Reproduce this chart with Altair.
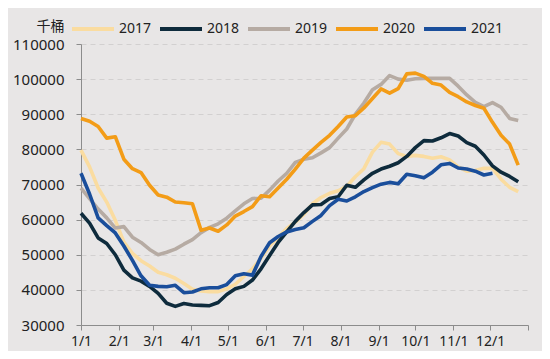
import altair as alt
import pandas as pd

# weekly observations (week index -> day of year = 7 * index)
s2017 = [79800, 75000, 69000, 65000, 59800, 53600, 50400, 48300, 46800, 45000,
         44300, 43300, 41800, 40200, 39700, 39500, 39500, 40300, 41600, 43800,
         46000, 49000, 52500, 55000, 57500, 59300, 61500, 64500, 66300, 67500,
         68200, 69500, 72200, 74500, 79200, 82000, 81500, 78800, 78000, 78300,
         78000, 77500, 77900, 77000, 75000, 73800, 74000, 74600, 74600, 71500,
         69200, 68000]
s2018 = [61800, 59000, 54800, 53200, 50000, 45600, 43400, 42500, 41000, 39000,
         36200, 35300, 36100, 35700, 35600, 35500, 36400, 38700, 40300, 41000,
         42800, 46000, 49800, 53500, 56500, 59500, 62000, 64200, 64300, 66000,
         66500, 69800, 69200, 71300, 73200, 74400, 75200, 76200, 78000, 80500,
         82500, 82400, 83300, 84500, 83800, 81900, 80900, 78400, 75300, 73500,
         72300, 70800]
s2019 = [69000, 66000, 63000, 60500, 57600, 58000, 55000, 53500, 51500, 50000,
         50700, 51600, 53000, 54300, 56300, 57800, 58800, 60400, 62500, 64500,
         66000, 66100, 68400, 71000, 73200, 76300, 77200, 77600, 79000, 80500,
         83200, 85800, 90000, 93200, 97000, 98500, 101000, 100000, 99700, 100100,
         100200, 100200, 100200, 100200, 98000, 95500, 93400, 92200, 93300, 92000,
         88800, 88200]
s2020 = [88800, 88000, 86500, 83200, 83600, 77200, 74500, 73400, 69800, 67000,
         66400, 65000, 64800, 64500, 57000, 57600, 56700, 58500, 61000, 62300,
         63700, 66800, 66500, 69000, 71500, 74400, 77500, 79800, 82000, 84000,
         86500, 89200, 89600, 91800, 94500, 97200, 96000, 97300, 101500, 101700,
         100800, 98800, 98300, 96200, 95000, 93500, 92500, 91700, 87700, 84000,
         81500, 75500]
s2021 = [73200, 67300, 60500, 58300, 56200, 52500, 48400, 44000, 41300, 41000,
         40900, 41300, 39200, 39400, 40300, 40600, 40600, 41500, 44000, 44600,
         44200, 49500, 53400, 55200, 56500, 57200, 57700, 59500, 61200, 64000,
         65800, 65300, 66500, 68000, 69100, 70100, 70600, 70200, 72900, 72500,
         71900, 73500, 75600, 76000, 74700, 74400, 73800, 72700, 73200]

years = ["2017", "2018", "2019", "2020", "2021"]
colors = ["#FADCA0", "#0E2B3C", "#B6ABA3", "#F39C17", "#1A4E9B"]
month_days = [0, 31, 59, 90, 120, 151, 181, 212, 243, 273, 304, 334, 365]
month_labels = ["1/1", "2/1", "3/1", "4/1", "5/1", "6/1", "7/1", "8/1",
                "9/1", "10/1", "11/1", "12/1", ""]
y_ticks = [30000, 40000, 50000, 60000, 70000, 80000, 90000, 100000, 110000]

rows = []
for yr, series in zip(years, [s2017, s2018, s2019, s2020, s2021]):
    for i, v in enumerate(series):
        rows.append({"day": i * 7, "value": v, "year": yr})
df = pd.DataFrame(rows)

label_expr = "[" + ",".join("'%s'" % l for l in month_labels) + "][indexof(" + \
    "[" + ",".join(str(d) for d in month_days) + "], datum.value)]"

FONT = "Noto Sans"

chart = alt.Chart(df).mark_line(strokeWidth=3.6, strokeJoin="round").encode(
    x=alt.X("day:Q",
            scale=alt.Scale(domain=[0, 365], nice=False, zero=False),
            axis=alt.Axis(values=month_days, labelExpr=label_expr, title=None,
                          grid=False, domainColor="#8C8C8C", tickColor="#8C8C8C",
                          tickSize=5, labelFontSize=14, labelColor="#222222",
                          labelFont=FONT, labelPadding=4, labelFlush=False,
                          labelOverlap=False)),
    y=alt.Y("value:Q",
            scale=alt.Scale(domain=[30000, 110000], nice=False, zero=False),
            axis=alt.Axis(values=y_ticks, format="d", title="千桶",
                          titleAngle=0, titleX=-31, titleY=-18,
                          titleAlign="center", titleBaseline="middle",
                          titleFont="Noto Sans CJK SC", titleFontSize=14,
                          titleFontWeight="normal", titleColor="#222222",
                          grid=True, gridDash=[5, 4], gridColor="#D2D0D0",
                          domainColor="#8C8C8C", tickColor="#8C8C8C", tickSize=5,
                          labelFontSize=15, labelColor="#222222", labelFont=FONT,
                          labelPadding=12)),
    color=alt.Color("year:N",
                    scale=alt.Scale(domain=years, range=colors),
                    legend=alt.Legend(orient="none", legendX=-11, legendY=-38,
                                      direction="horizontal", title=None,
                                      symbolType="stroke", symbolSize=1764,
                                      symbolStrokeWidth=4, labelFontSize=14,
                                      labelFont=FONT, labelColor="#222222",
                                      labelOffset=3, columnPadding=0)),
).properties(
    width=447, height=281,
    autosize=alt.AutoSizeParams(type="none"),
    padding={"left": 73, "top": 36, "right": 14, "bottom": 26},
    background="#E8E6E6",
).configure_view(stroke=None)

chart.save("out.html", embed_options={"renderer": "svg", "actions": False})
